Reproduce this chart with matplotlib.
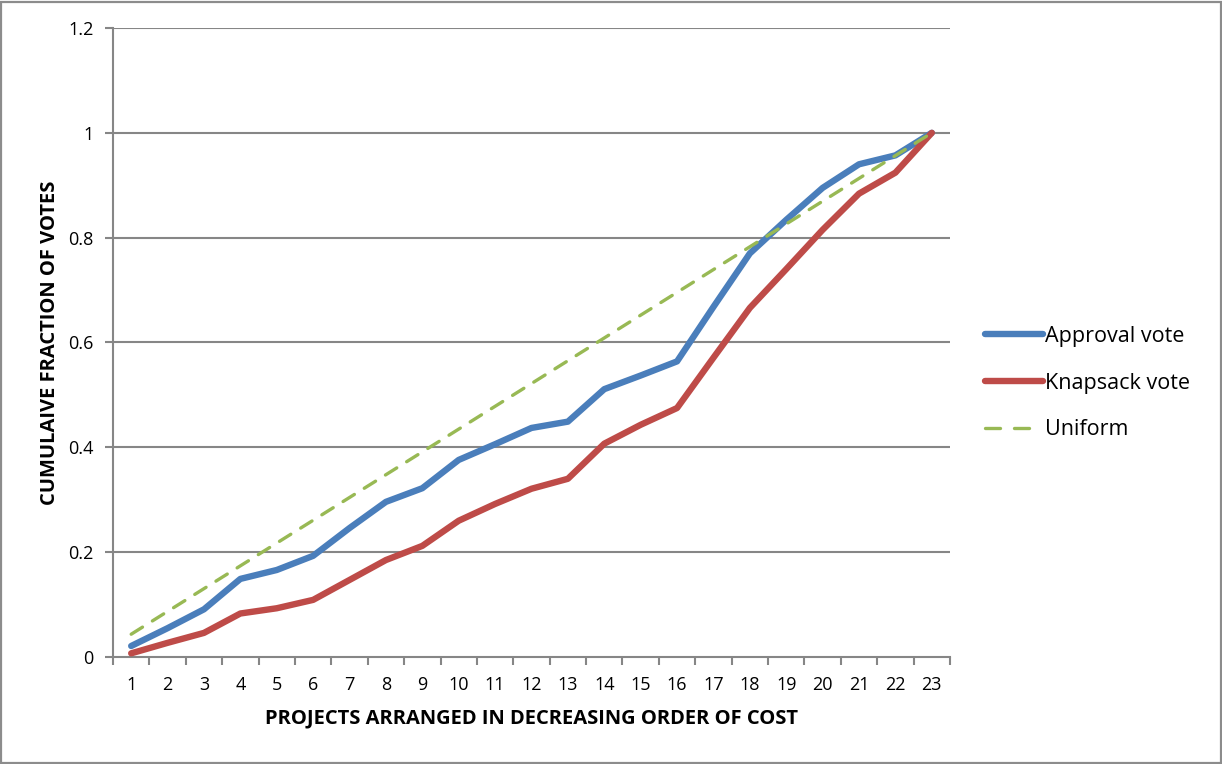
import matplotlib
matplotlib.use("Agg")
import matplotlib.pyplot as plt
from matplotlib.patches import Rectangle
from matplotlib.ticker import FixedLocator, NullFormatter

projects = list(range(1, 24))
approval = [0.021, 0.055, 0.091, 0.149, 0.166, 0.193, 0.246, 0.296, 0.322, 0.376, 0.406,
            0.437, 0.449, 0.511, 0.537, 0.564, 0.668, 0.770, 0.834, 0.895, 0.940, 0.957, 1.0]
knapsack = [0.007, 0.027, 0.046, 0.083, 0.093, 0.109, 0.147, 0.185, 0.212, 0.260, 0.292,
            0.321, 0.340, 0.407, 0.443, 0.475, 0.571, 0.666, 0.740, 0.815, 0.884, 0.924, 1.0]
uniform = [k / 23 for k in projects]
yticks = [0, 0.2, 0.4, 0.6, 0.8, 1.0, 1.2]
ytick_labels = ["0", "0.2", "0.4", "0.6", "0.8", "1", "1.2"]

plt.rcParams['font.family'] = ['Open Sans', 'DejaVu Sans']

W, H = 1222, 764
fig = plt.figure(figsize=(W / 100, H / 100), dpi=100)
fig.patches.append(Rectangle((1 / W, 1 / H), 1 - 2.5 / W, 1 - 2.5 / H, transform=fig.transFigure,
                             fill=False, edgecolor='#8c8c8c', linewidth=1.6))
ax = fig.add_axes([113 / W, 1 - 657 / H, (950 - 113) / W, (657 - 28) / H])

grid_c = '#868686'
for y in yticks[1:]:
    ax.axhline(y, color=grid_c, linewidth=1.5, zorder=1)

ax.plot(projects, approval, color='#4A7EBB', linewidth=4.6, solid_capstyle='round',
        solid_joinstyle='round', label='Approval vote', zorder=3)
ax.plot(projects, knapsack, color='#BE4B48', linewidth=4.6, solid_capstyle='round',
        solid_joinstyle='round', label='Knapsack vote', zorder=3)
ax.plot(projects, uniform, color='#98B954', linewidth=2.4, linestyle=(0, (4, 3.5)),
        dash_capstyle='round', label='Uniform', zorder=4)

ax.set_xlim(0.5, 23.5)
ax.set_ylim(0, 1.2)
ax.set_yticks(yticks)
ax.set_yticklabels(ytick_labels)
ax.set_xticks(projects)
ax.set_xticklabels([str(p) for p in projects])
ax.xaxis.set_minor_locator(FixedLocator([p + 0.5 for p in range(0, 24)]))
ax.xaxis.set_minor_formatter(NullFormatter())
ax.tick_params(axis='x', which='major', length=0, labelsize=13, pad=14, colors='black')
ax.tick_params(axis='x', which='minor', length=6, width=1.5, color=grid_c)
ax.tick_params(axis='y', length=6, width=1.5, color=grid_c, labelsize=13, pad=8)

for s in ['top', 'right']:
    ax.spines[s].set_visible(False)
for s in ['left', 'bottom']:
    ax.spines[s].set_color(grid_c)
    ax.spines[s].set_linewidth(1.5)

ax.set_xlabel('PROJECTS ARRANGED IN DECREASING ORDER OF COST', fontsize=14.5, fontweight='bold', labelpad=10)
ax.set_ylabel('CUMULAIVE FRACTION OF VOTES', fontsize=14.5, fontweight='bold', labelpad=6)

leg = ax.legend(loc='center left', bbox_to_anchor=(985 / W, 1 - 383 / H), bbox_transform=fig.transFigure,
                frameon=False, fontsize=15.5, handlelength=2.7, handletextpad=0.1, labelspacing=1.2,
                borderaxespad=0, borderpad=0)
leg.get_lines()[2].set_linestyle((0, (4.5, 4.2)))

fig.savefig('out.png', dpi=100)
